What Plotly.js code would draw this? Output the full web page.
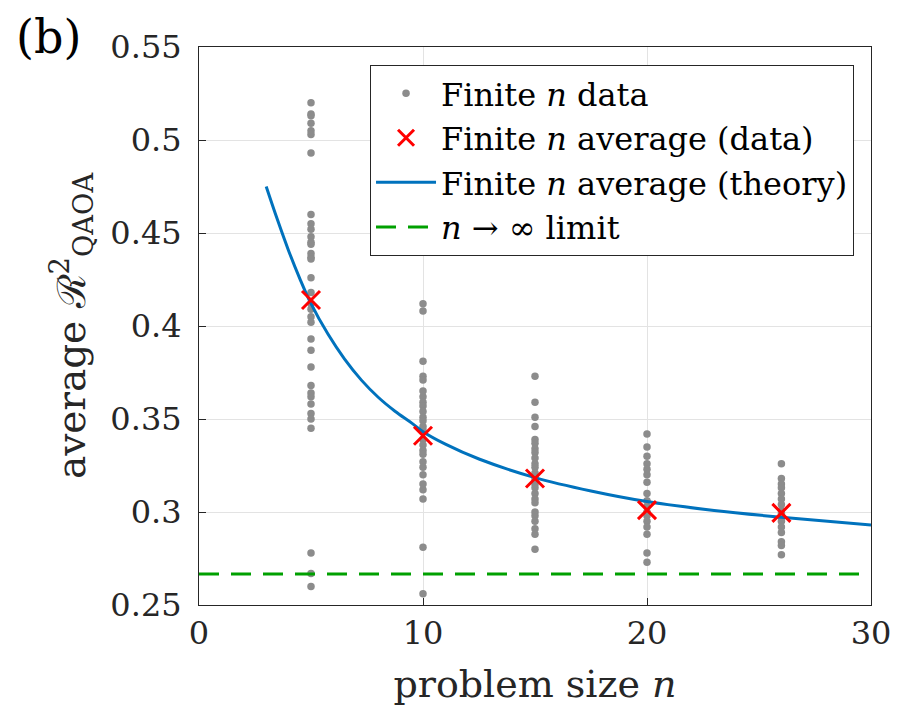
<!DOCTYPE html>
<html>
<head>
<meta charset="utf-8">
<script src="https://cdn.plot.ly/plotly-3.0.1.min.js"></script>
<style>html,body{margin:0;padding:0;background:#fff;}#chart{width:916px;height:715px;}</style>
</head>
<body>
<div id="chart"></div>
<script>
// Finite-n data (each column at one problem size)
const dataN5  = [0.520,0.514,0.513,0.509,0.505,0.503,0.493,0.460,0.455,0.452,0.448,0.445,0.444,0.439,0.437,0.436,0.426,0.418,0.412,0.409,0.405,0.402,0.393,0.387,0.378,0.368,0.364,0.362,0.358,0.353,0.350,0.345,0.278,0.267,0.260];
const dataN10 = [0.412,0.408,0.381,0.373,0.371,0.365,0.362,0.359,0.357,0.354,0.351,0.349,0.346,0.344,0.339,0.336,0.333,0.331,0.327,0.324,0.320,0.315,0.312,0.307,0.281,0.256];
const dataN15 = [0.373,0.359,0.351,0.346,0.339,0.337,0.334,0.332,0.329,0.326,0.324,0.321,0.318,0.315,0.313,0.310,0.307,0.305,0.300,0.298,0.295,0.291,0.288,0.280];
const dataN20 = [0.342,0.335,0.330,0.326,0.323,0.320,0.316,0.310,0.306,0.303,0.300,0.298,0.295,0.292,0.288,0.278,0.273];
const dataN26 = [0.326,0.318,0.315,0.313,0.310,0.307,0.304,0.301,0.299,0.297,0.295,0.292,0.289,0.284,0.282,0.277];
const sizes = [5, 10, 15, 20, 26];
const columns = [dataN5, dataN10, dataN15, dataN20, dataN26];

// Finite-n averages (data)
const avgN = [5, 10, 15, 20, 26];
const avgR = [0.414, 0.341, 0.318, 0.301, 0.2995];

// Finite-n average (theory)
const theoryN = [3, 3.5, 4, 4.5, 5, 5.75, 6.5, 7.25, 8, 8.75, 9.5, 10, 11, 12.5, 15, 17.5, 20, 23, 26, 30];
const theoryR = [0.4750, 0.4572, 0.4405, 0.4255, 0.4120, 0.3958, 0.3822, 0.3709, 0.3617, 0.3542, 0.3478, 0.3432, 0.3365, 0.3285, 0.3185, 0.3113, 0.3056, 0.3008, 0.2972, 0.2930];

// n -> infinity limit
const limitN = [0, 30];
const limitR = [0.2667, 0.2667];

const yTickVals = [0.25, 0.3, 0.35, 0.4, 0.45, 0.5, 0.55];
const yTickText = ['0.25', '0.3', '0.35', '0.4', '0.45', '0.5', '0.55'];
const xTickVals = [0, 10, 20, 30];
const xTickText = ['0', '10', '20', '30'];

const dotX = [], dotY = [];
columns.forEach((col, i) => col.forEach(v => { dotX.push(sizes[i]); dotY.push(v); }));

const FONT = 'DejaVu Serif';
const traces = [
  {x: dotX, y: dotY, type: 'scatter', mode: 'markers', name: 'Finite <i>n</i> data',
   marker: {color: '#8c8c8c', size: 7.5}, legendrank: 1},
  {x: theoryN, y: theoryR, type: 'scatter', mode: 'lines', name: 'Finite <i>n</i> average (theory)',
   line: {color: '#0072BD', width: 3, shape: 'spline', smoothing: 1}, legendrank: 3},
  {x: limitN, y: limitR, type: 'scatter', mode: 'lines', name: '<i>n</i> → ∞ limit',
   line: {color: '#00A000', width: 3, dash: '20px,12px'}, legendrank: 4},
  {x: avgN, y: avgR, type: 'scatter', mode: 'markers', name: 'Finite <i>n</i> average (data)',
   marker: {color: '#ff0000', size: 18, symbol: 'x-thin-open', line: {color: '#ff0000', width: 3}}, legendrank: 2}
];

const axisCommon = {
  showline: true, linecolor: '#262626', linewidth: 1, mirror: true,
  ticks: 'inside', ticklen: 7, tickcolor: '#262626', tickwidth: 1,
  showgrid: true, gridcolor: '#e3e3e3', gridwidth: 1, zeroline: false,
  tickfont: {family: FONT, size: 32, color: '#262626'}
};

const layout = {
  width: 916, height: 715,
  margin: {l: 199, r: 45, t: 47, b: 110},
  paper_bgcolor: '#ffffff', plot_bgcolor: '#ffffff',
  font: {family: FONT, color: '#262626'},
  showlegend: true,
  legend: {x: 0.2545, y: 0.968, xanchor: 'left', yanchor: 'top',
    bgcolor: '#ffffff', bordercolor: '#262626', borderwidth: 1,
    font: {family: FONT, size: 32, color: '#000000'}, itemwidth: 60},
  xaxis: Object.assign({}, axisCommon, {
    range: [0, 30], tickvals: xTickVals, ticktext: xTickText, ticklabelstandoff: 0,
    title: {text: 'problem size <i>n</i>', font: {family: FONT, size: 38, color: '#262626'}, standoff: 18}
  }),
  yaxis: Object.assign({}, axisCommon, {
    range: [0.25, 0.55], tickvals: yTickVals, ticktext: yTickText, ticklabelstandoff: 10,
    title: {text: 'average ℛ<sup>2</sup><sub>QAOA</sub>', font: {family: FONT, size: 39, color: '#262626'}, standoff: 12}
  }),
  annotations: [
    {text: '(b)', xref: 'paper', yref: 'paper', x: -0.275, y: 1.07, xanchor: 'left', yanchor: 'top',
     showarrow: false, font: {family: FONT, size: 46, color: '#000000'}}
  ]
};

Plotly.newPlot('chart', traces, layout, {displayModeBar: false, staticPlot: true});
</script>
</body>
</html>
